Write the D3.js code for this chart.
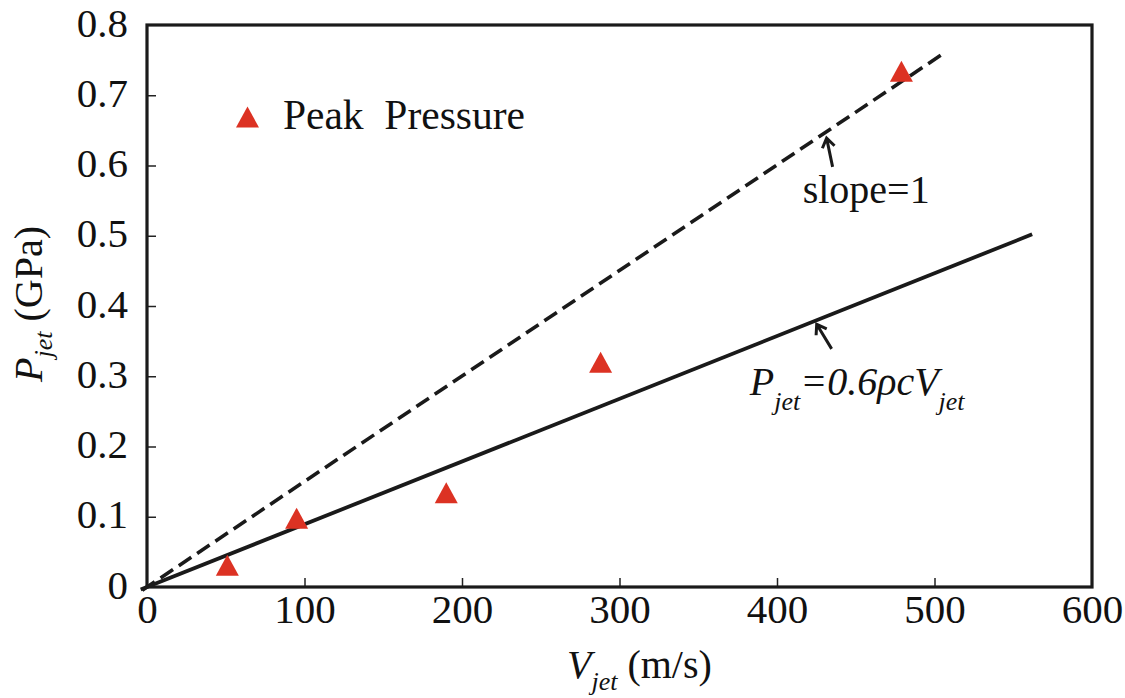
<!DOCTYPE html>
<html>
<head>
<meta charset="utf-8">
<script src="https://cdn.jsdelivr.net/npm/d3@7/dist/d3.min.js"></script>
<style>
  html, body { margin: 0; padding: 0; background: #fff; }
  svg { display: block; }
</style>
</head>
<body>
<svg id="chart" width="1125" height="698" font-family="'Liberation Serif', 'Times New Roman', Times, 'DejaVu Serif', serif"></svg>
<script>
// Jet velocity (m/s) and measured peak pressure (GPa)
const velocity = [51, 95, 190, 288, 479];
const peakPressure = [0.031, 0.098, 0.134, 0.320, 0.734];

// Reference lines: slope = 1 (dashed) and P = 0.6ρcV (solid)
const slopeOneLine = [[-3, -0.0045], [506, 0.760]];
const fitLine = [[-4, -0.0036], [562, 0.502]];

const xTicks = [0, 100, 200, 300, 400, 500, 600];
const yTicks = [0, 0.1, 0.2, 0.3, 0.4, 0.5, 0.6, 0.7, 0.8];

const FONT = "'Liberation Serif', 'Times New Roman', Times, 'DejaVu Serif', serif";

const svg = d3.select("#chart");
const margin = { left: 147, top: 25, right: 33, bottom: 111 };
const W = 1125 - margin.left - margin.right;
const H = 698 - margin.top - margin.bottom;

const x = d3.scaleLinear().domain([0, 600]).range([0, W]);
const y = d3.scaleLinear().domain([0, 0.8]).range([H, 0]);

const g = svg.append("g").attr("transform", `translate(${margin.left},${margin.top})`);

// Axes with inward ticks
const xAxis = g.append("g").attr("transform", `translate(0,${H})`)
  .call(d3.axisBottom(x).tickValues(xTicks).tickSize(-9).tickPadding(0).tickFormat(d3.format("d")));
xAxis.selectAll("text").attr("dy", 0).attr("y", 36);

const yAxis = g.append("g")
  .call(d3.axisLeft(y).tickValues(yTicks).tickSize(-9).tickPadding(0)
    .tickFormat(d => d === 0 ? "0" : d3.format(".1f")(d)));
yAxis.selectAll("text").attr("dy", 0).attr("x", -19).attr("y", 11);

[xAxis, yAxis].forEach(a => {
  a.attr("font-family", FONT).attr("font-size", 41);
  a.selectAll("text").attr("fill", "#111");
  a.select(".domain").remove();
  a.selectAll(".tick line").attr("stroke", "#222").attr("stroke-width", 1.5);
  a.selectAll(".tick").filter(d => d === 0 || d === 600 || d === 0.8).select("line").remove();
});

// Frame
g.append("rect").attr("x", 0).attr("y", 0).attr("width", W).attr("height", H)
  .attr("fill", "none").attr("stroke", "#1a1a1a").attr("stroke-width", 3.2);

const line = d3.line().x(d => x(d[0])).y(d => y(d[1]));

g.append("path").datum(slopeOneLine).attr("d", line)
  .attr("fill", "none").attr("stroke", "#1a1a1a").attr("stroke-width", 3.6)
  .attr("stroke-dasharray", "15,7");

g.append("path").datum(fitLine).attr("d", line)
  .attr("fill", "none").attr("stroke", "#1a1a1a").attr("stroke-width", 3.8);

// Triangle markers
const triW = 23, triH = 21;
const triPath = `M0,${-triH / 2}L${triW / 2},${triH / 2}L${-triW / 2},${triH / 2}Z`;
g.selectAll(".pt").data(velocity.map((v, i) => [v, peakPressure[i]])).enter()
  .append("path").attr("class", "pt")
  .attr("d", triPath)
  .attr("transform", d => `translate(${x(d[0])},${y(d[1])})`)
  .attr("fill", "#dc3223");

function label(parent, px, py, size) {
  return parent.append("text").attr("x", px).attr("y", py)
    .attr("font-family", FONT).attr("font-size", size || 40).attr("fill", "#111");
}

// Legend
const legendPos = [63.8, 0.669];
g.append("path").attr("d", triPath)
  .attr("transform", `translate(${x(legendPos[0])},${y(legendPos[1])})`)
  .attr("fill", "#dc3223");
label(g, x(86.3), y(0.652), 41.5).text("Peak\u00a0\u00a0Pressure");

// Annotation arrows (open chevron heads)
function arrow(tail, tip) {
  const [x1, y1] = [x(tail[0]), y(tail[1])];
  const [x2, y2] = [x(tip[0]), y(tip[1])];
  const ang = Math.atan2(y2 - y1, x2 - x1);
  const L = 11, spread = 0.6;
  const p = d3.path();
  p.moveTo(x1, y1); p.lineTo(x2, y2);
  p.moveTo(x2 - L * Math.cos(ang - spread), y2 - L * Math.sin(ang - spread));
  p.lineTo(x2, y2);
  p.lineTo(x2 - L * Math.cos(ang + spread), y2 - L * Math.sin(ang + spread));
  g.append("path").attr("d", p.toString()).attr("fill", "none")
    .attr("stroke", "#1a1a1a").attr("stroke-width", 3).attr("stroke-linejoin", "miter");
}
arrow([435.3, 0.598], [431.5, 0.639]);
arrow([434.7, 0.339], [425.2, 0.374]);

label(g, x(416.3), y(0.547)).text("slope=1");

// Equation label
const eq = label(g, x(382.7), y(0.273)).attr("font-style", "italic");
eq.append("tspan").text("P");
eq.append("tspan").attr("dy", 15).attr("font-size", 26).text("jet");
eq.append("tspan").attr("dy", -15).text("=0.6ρcV");
eq.append("tspan").attr("dy", 15).attr("font-size", 26).text("jet");

// Axis titles
const xt = label(svg, 567, 678);
xt.append("tspan").attr("font-style", "italic").text("V");
xt.append("tspan").attr("dy", 12).attr("font-size", 26).attr("font-style", "italic").text("jet");
xt.append("tspan").attr("dy", -12).text(" (m/s)");

const yt = label(svg, 0, 0).attr("transform", "translate(42,382) rotate(-90)");
yt.append("tspan").attr("font-style", "italic").text("P");
yt.append("tspan").attr("dy", 10).attr("font-size", 26).attr("font-style", "italic").text("jet");
yt.append("tspan").attr("dy", -10).text(" (GPa)");
</script>
</body>
</html>
